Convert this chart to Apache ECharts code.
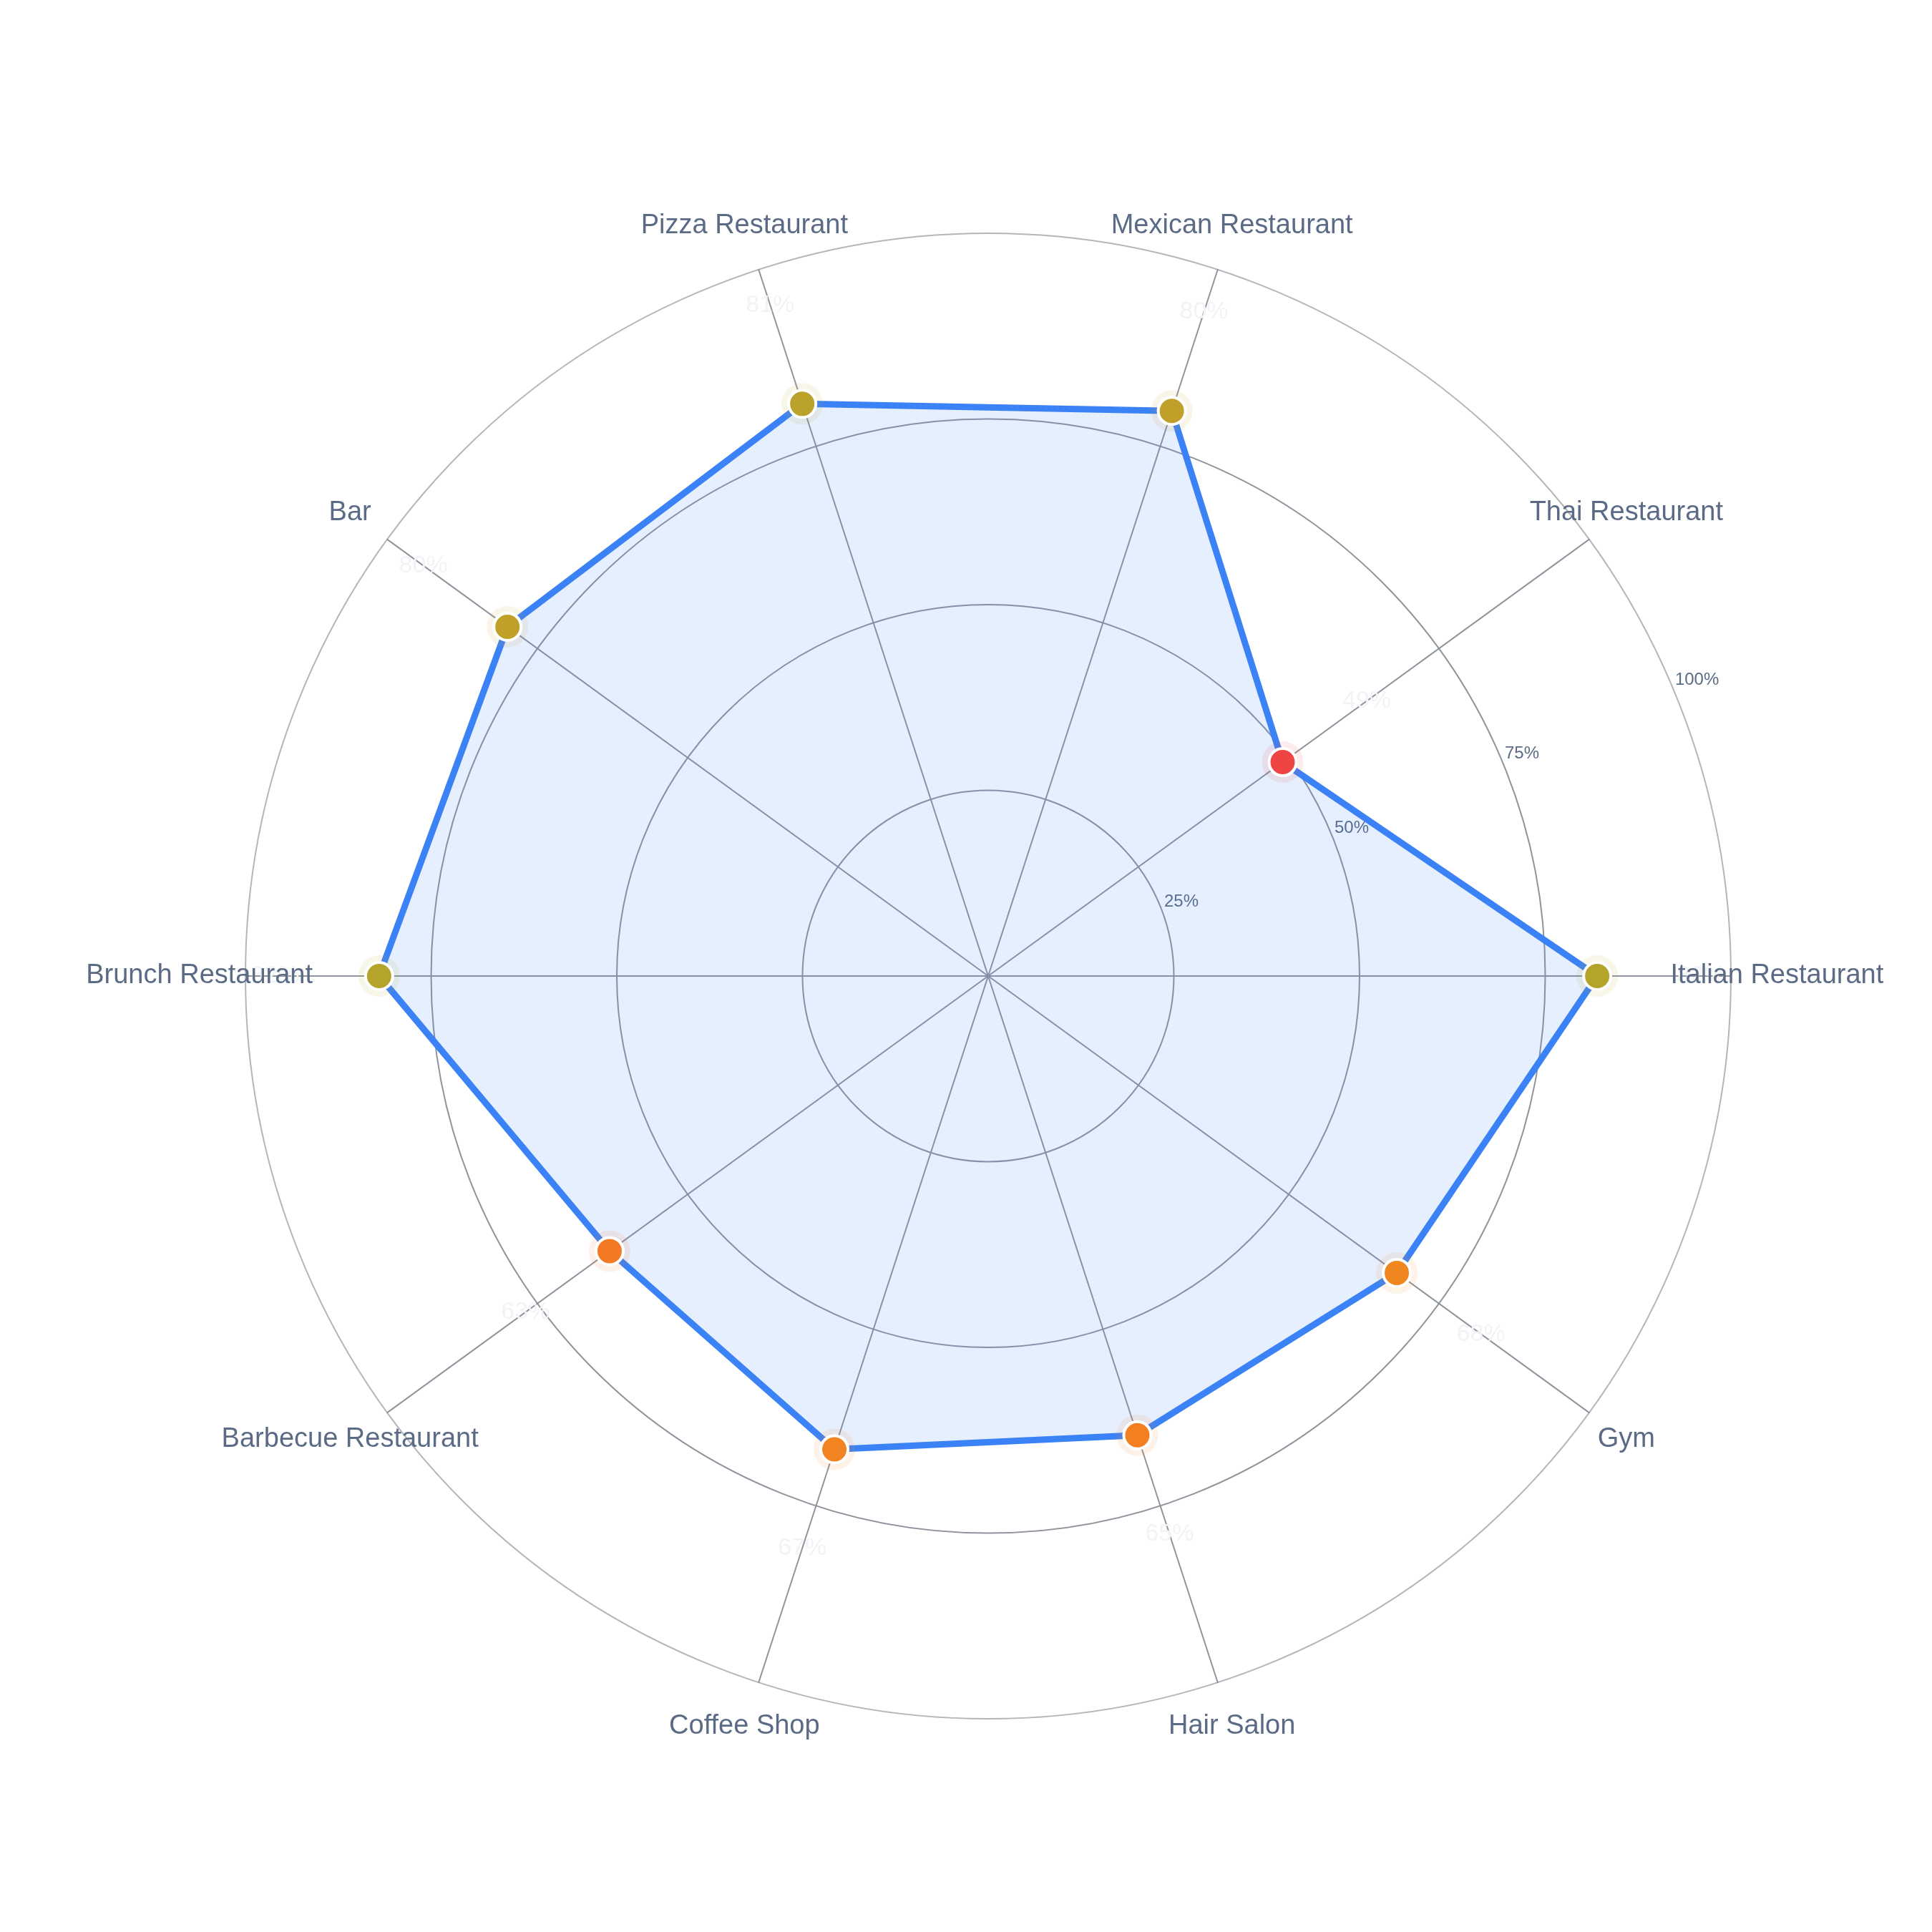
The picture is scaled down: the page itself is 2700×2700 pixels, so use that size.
<!DOCTYPE html>
<html>
<head>
<meta charset="utf-8">
<title>Radar</title>
<script src="https://cdn.jsdelivr.net/npm/echarts/dist/echarts.min.js"></script>
<style>
  html, body { margin: 0; padding: 0; background: #fff; }
  #radar-chart { width: 2700px; height: 2700px; }
</style>
</head>
<body>
<div id="radar-chart"></div>
<script>
// data
var categories = ['Italian Restaurant', 'Thai Restaurant', 'Mexican Restaurant', 'Pizza Restaurant', 'Bar',
  'Brunch Restaurant', 'Barbecue Restaurant', 'Coffee Shop', 'Hair Salon', 'Gym'];
var values = [82, 49, 80, 81, 80, 82, 63, 67, 65, 68];
var tickValues = [0, 25, 50, 75, 100];

var CENTER = [1381, 1364];
var RADIUS = 1038;
var LABEL_OFFSET = 14;   // faint value text sits a bit outside each point
var NAME_RING = 106.2;   // category names are centred just outside the outer ring
var FONT = '"Liberation Sans", Helvetica, Arial, sans-serif';
var TEXT = '#5b6b85';
var pointColors = ['#ef4444', '#f26a2c', '#f48020', '#e59421', '#b5a42b'];

var radar_chart = echarts.init(document.getElementById('radar-chart'));

radar_chart.setOption({
  backgroundColor: '#fff',
  animation: false,
  radar: {
    center: CENTER,
    radius: RADIUS,
    startAngle: 0,
    shape: 'circle',
    splitNumber: tickValues.length - 1,
    indicator: categories.map(function (c) { return { name: c, min: 0, max: 100 }; }),
    axisName: { show: false },
    axisLine: { lineStyle: { color: '#8f949c', width: 2 } },
    splitLine: { lineStyle: { color: ['#8f949c', '#8f949c', '#8f949c', '#8f949c', '#b3b6bb'], width: 2 } },
    splitArea: { show: false }
  },
  polar: [
    // same scale as the radar, just stretched out to the name ring
    { center: CENTER, radius: RADIUS * NAME_RING / 100 },
    { center: CENTER, radius: RADIUS }
  ],
  angleAxis: [{
    polarIndex: 0,
    type: 'category',
    data: categories,
    startAngle: 0,
    clockwise: false,
    boundaryGap: false,
    axisLine: { show: false },
    axisTick: { show: false },
    splitLine: { show: false },
    axisLabel: { show: false }
  }, {
    polarIndex: 1,
    type: 'value',
    min: 0, max: 360,
    startAngle: 23.5,
    show: false
  }],
  radiusAxis: [{
    polarIndex: 0,
    min: 0, max: NAME_RING,
    axisLine: { show: false },
    axisTick: { show: false },
    axisLabel: { show: false },
    splitLine: { show: false }
  }, {
    polarIndex: 1,
    min: 0, max: 100, interval: 25,
    axisLine: { show: false },
    axisTick: { show: false },
    splitLine: { show: false },
    axisLabel: {
      showMinLabel: false,
      margin: 0, align: 'left', verticalAlign: 'middle',
      padding: [0, 0, 0, 8],
      formatter: '{value}%',
      fontSize: 24, fontFamily: FONT, color: TEXT
    }
  }],
  visualMap: [{
    show: false, seriesIndex: 2, dimension: 0, min: 49, max: 82,
    inRange: { color: pointColors }
  }, {
    show: false, seriesIndex: 1, dimension: 0, min: 49, max: 82,
    inRange: { color: pointColors, opacity: 0.1 }
  }],
  series: [{
    type: 'radar',
    z: 2,
    symbol: 'none',
    lineStyle: { color: '#3b82f6', width: 9 },
    areaStyle: { color: '#3b82f6', opacity: 0.13 },
    data: [{ value: values }]
  }, {
    // soft halo behind each point
    type: 'scatter',
    coordinateSystem: 'polar',
    polarIndex: 0,
    z: 3,
    symbolSize: 58,
    data: values.map(function (v, i) { return [v, categories[i]]; })
  }, {
    type: 'scatter',
    coordinateSystem: 'polar',
    polarIndex: 0,
    z: 4,
    symbolSize: 38,
    itemStyle: { borderColor: '#fff', borderWidth: 4, opacity: 1 },
    data: values.map(function (v, i) { return [v, categories[i]]; })
  }, {
    // faint value text
    type: 'scatter',
    coordinateSystem: 'polar',
    polarIndex: 0,
    z: 5,
    symbolSize: 0,
    silent: true,
    itemStyle: { opacity: 1 },
    label: {
      show: true, position: 'inside',
      formatter: function (p) { return values[p.dataIndex] + '%'; },
      fontSize: 34, fontFamily: FONT, color: '#f1f3f6'
    },
    data: values.map(function (v, i) { return [v + LABEL_OFFSET, categories[i]]; })
  }, {
    // category names
    type: 'scatter',
    coordinateSystem: 'polar',
    polarIndex: 0,
    z: 6,
    symbolSize: 0,
    silent: true,
    itemStyle: { opacity: 1 },
    label: {
      show: true, position: 'inside',
      formatter: function (p) { return categories[p.dataIndex]; },
      fontSize: 38, fontFamily: FONT, color: TEXT
    },
    data: categories.map(function (c) { return [NAME_RING, c]; })
  }]
});
</script>
</body>
</html>
